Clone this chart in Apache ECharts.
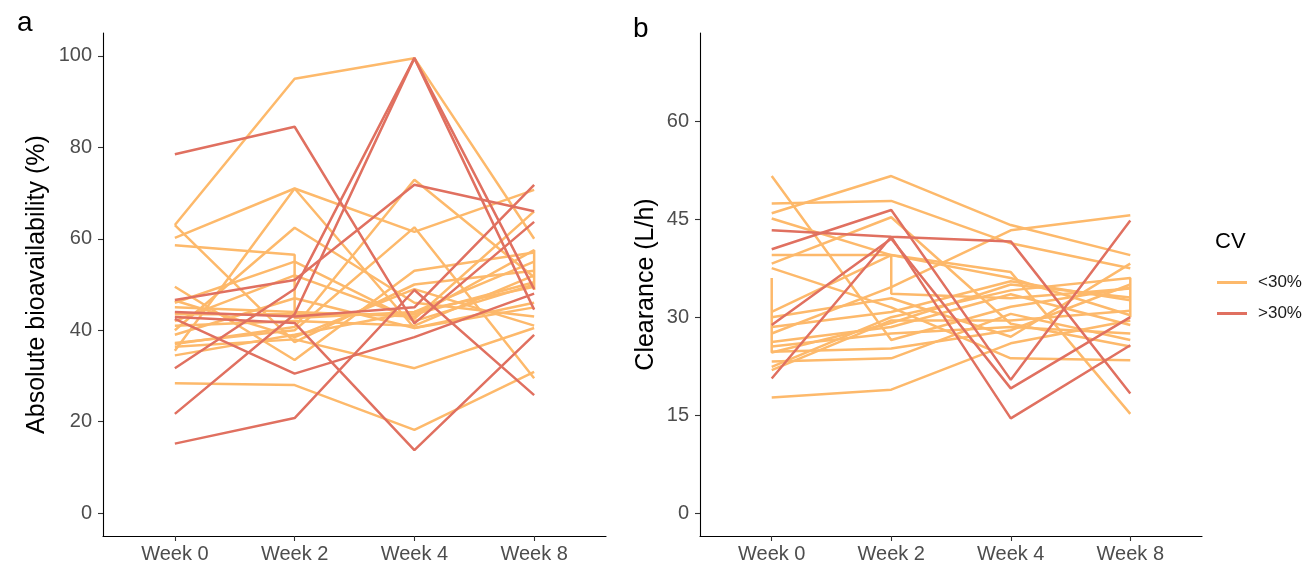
<!DOCTYPE html>
<html>
<head>
<meta charset="utf-8">
<script src="https://cdn.jsdelivr.net/npm/echarts@6/dist/echarts.min.js"></script>
<style>
html,body{margin:0;padding:0;background:#fff;}
#chart{width:1307px;height:565px;}
</style>
</head>
<body>
<div id="chart"></div>
<script>
// ---- data ----
const weeks = ['Week 0', 'Week 2', 'Week 4', 'Week 8'];
const cvGroups = ['<30%', '>30%'];
const bioTicks = [0, 20, 40, 60, 80, 100];
const clTicks = [0, 15, 30, 45, 60];

// Panel a: absolute bioavailability (%), one row per subject (Week 0, 2, 4, 8);
// a nested pair means two measurements recorded at that week
const bioLow = [
  [63.0, 95.0, 99.5, 60.0],
  [60.2, 71.0, 61.5, 70.7],
  [35.5, 71.0, 40.5, 46.0],
  [58.6, [56.5, 42.7], 44.0, 55.0],
  [63.0, 37.4, 50.0, 53.0],
  [40.0, 62.4, 46.0, 43.0],
  [37.0, 40.7, 72.9, 51.6],
  [49.5, 33.5, 53.0, 57.0],
  [46.0, 55.0, 42.0, 50.0],
  [45.0, 44.0, 43.0, [57.5, 48.8]],
  [41.0, 42.0, 41.0, 52.0],
  [39.0, 47.0, 40.5, 45.0],
  [34.5, 39.0, 44.0, 49.5],
  [36.4, 38.0, 31.7, 40.5],
  [28.4, 28.0, 18.2, 30.9],
  [37.2, 40.0, 62.5, 29.5],
  [42.0, 52.0, 42.5, 66.0],
  [46.5, 38.5, 49.0, 41.0],
  [43.5, 43.5, 43.5, 50.5]
];
const bioHigh = [
  [78.5, 84.5, 41.5, 63.7],
  [21.7, 43.5, 99.5, 44.5],
  [31.7, 49.0, 99.5, 49.0],
  [15.2, 20.8, 48.8, 25.8],
  [42.5, 30.5, 38.5, 48.0],
  [42.9, 41.6, 13.8, 39.0],
  [46.6, 51.0, 71.8, 66.0],
  [44.0, 43.0, 45.0, 71.8]
];

// Panel b: clearance (L/h)
const clLow = [
  [51.6, 26.5, 31.6, 34.5],
  [45.9, 51.6, 44.1, 39.5],
  [47.4, 47.8, 41.3, 37.5],
  [45.1, 39.5, 36.9, 15.2],
  [39.5, 39.5, 36.0, 30.3],
  [38.2, 45.3, 29.0, 25.5],
  [27.5, 34.6, 43.3, 45.6],
  [[36.0, 24.6], 29.1, 35.0, 33.0],
  [30.8, [39.5, 33.6], 32.9, 34.4],
  [22.4, 30.0, 34.1, [36.0, 30.0]],
  [30.0, 32.9, 27.0, 38.2],
  [28.5, 30.8, 35.5, 32.6],
  [26.2, 28.5, 33.5, 28.8],
  [24.7, 25.2, 28.0, 35.0],
  [23.2, 23.7, 30.5, 26.5],
  [21.9, 29.5, 29.5, 31.0],
  [17.7, 18.9, 26.0, 29.5],
  [37.5, 31.5, 23.7, 23.4],
  [25.5, 27.5, 28.5, 27.5]
];
const clHigh = [
  [43.3, 42.3, 41.6, 18.3],
  [40.4, 46.4, 20.4, 44.8],
  [20.6, 42.3, 14.5, 25.7],
  [28.8, 42.0, 19.1, 30.0]
];

// ---- styling ----
const colors = {'<30%': '#FDB96B', '>30%': '#E07060'};
const FONT = 'Liberation Sans, Arial, sans-serif';

function toPoints(row) {
  const pts = [];
  row.forEach((v, i) => {
    if (Array.isArray(v)) v.forEach(u => pts.push([i, u]));
    else pts.push([i, v]);
  });
  return pts;
}
function makeSeries(rows, group, axisIdx) {
  return rows.map(r => ({
    type: 'line',
    name: group,
    xAxisIndex: axisIdx,
    yAxisIndex: axisIdx,
    data: toPoints(r),
    showSymbol: false,
    symbol: 'none',
    silent: true,
    animation: false,
    lineStyle: {width: 2.5, color: colors[group]},
    itemStyle: {color: colors[group]}
  }));
}

function xAxis(gi) {
  return {
    type: 'value', gridIndex: gi, min: -0.6, max: 3.6,
    axisLine: {show: true, onZero: false, lineStyle: {color: '#000', width: 1.1}},
    axisTick: {show: true, length: 5, lineStyle: {color: '#333', width: 1.1}, customValues: [0, 1, 2, 3]},
    axisLabel: {customValues: [0, 1, 2, 3], formatter: v => weeks[Math.round(v)] || '',
      color: '#4D4D4D', fontSize: 20, fontFamily: FONT, margin: 8},
    splitLine: {show: false}
  };
}
function yAxis(gi, min, max, ticks, name, gap) {
  return {
    type: 'value', gridIndex: gi, min: min, max: max,
    name: name, nameLocation: 'middle', nameGap: gap,
    nameTextStyle: {color: '#000', fontSize: 25, fontFamily: FONT},
    axisLine: {show: true, onZero: false, lineStyle: {color: '#000', width: 1.1}},
    axisTick: {show: true, length: 5, lineStyle: {color: '#333', width: 1.1}, customValues: ticks},
    axisLabel: {customValues: ticks, color: '#4D4D4D', fontSize: 20, fontFamily: FONT, margin: 11},
    splitLine: {show: false}
  };
}

const chart = echarts.init(document.getElementById('chart'), null, {renderer: 'canvas'});
chart.setOption({
  backgroundColor: '#fff',
  animation: false,
  title: [
    {text: 'a', left: 12, top: 4, textStyle: {fontSize: 28, fontWeight: 'normal', color: '#000', fontFamily: FONT}},
    {text: 'b', left: 628, top: 10, textStyle: {fontSize: 28, fontWeight: 'normal', color: '#000', fontFamily: FONT}},
    {text: 'CV', left: 1210, top: 226, textStyle: {fontSize: 22, fontWeight: 'normal', color: '#000', fontFamily: FONT}}
  ],
  legend: {
    data: cvGroups, orient: 'vertical', left: 1212, top: 269,
    icon: 'rect', itemWidth: 30, itemHeight: 3, itemGap: 14,
    selectedMode: false,
    textStyle: {fontSize: 17, color: '#1A1A1A', fontFamily: FONT, padding: [0, 0, 0, 6]}
  },
  grid: [
    {left: 103, top: 33, width: 503, height: 503},
    {left: 700, top: 33, width: 502, height: 503}
  ],
  xAxis: [xAxis(0), xAxis(1)],
  yAxis: [
    yAxis(0, -5, 105, bioTicks, 'Absolute bioavailability (%)', 53),
    yAxis(1, -3.5, 73.5, clTicks, 'Clearance (L/h)', 41)
  ],
  series: [].concat(
    makeSeries(bioLow, '<30%', 0),
    makeSeries(bioHigh, '>30%', 0),
    makeSeries(clLow, '<30%', 1),
    makeSeries(clHigh, '>30%', 1)
  )
});
</script>
</body>
</html>
